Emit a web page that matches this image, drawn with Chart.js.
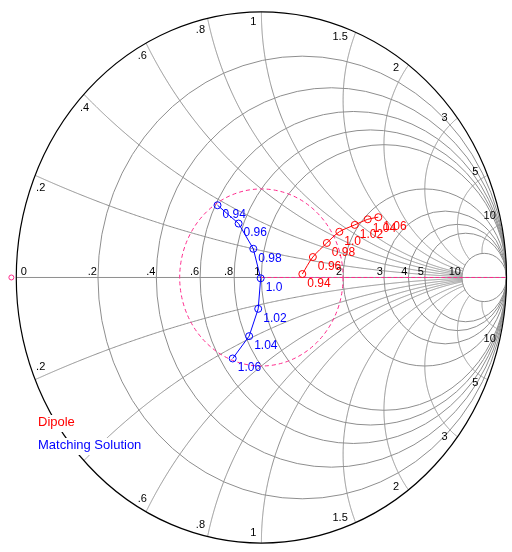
<!DOCTYPE html>
<html><head><meta charset="utf-8">
<script src="https://cdn.jsdelivr.net/npm/chart.js@4/dist/chart.umd.min.js"></script>
<style>html,body{margin:0;padding:0;background:#fff;overflow:hidden}#wrap{position:relative;width:512px;height:552px}</style>
</head><body><div id="wrap"><canvas id="c" width="512" height="552"></canvas></div>
<script>
// ---- data (reflection coefficient) ----
const freqLabels = ['0.94','0.96','0.98','1.0','1.02','1.04','1.06'];
const dipoleRe = [0.167, 0.210, 0.267, 0.318, 0.381, 0.434, 0.477];
const dipoleIm = [0.013, 0.077, 0.130, 0.172, 0.198, 0.219, 0.227];
const matchRe = [-0.179, -0.093, -0.033, -0.003, -0.013, -0.050, -0.117];
const matchIm = [0.272, 0.203, 0.108, -0.003, -0.118, -0.221, -0.305];
const sourceRe = [-1.02];
const sourceIm = [0];
const seriesNames = ['Dipole', 'Matching Solution'];
// ---- grid definition ----
const resistanceCircles = [0.2, 0.4, 0.6, 0.8, 1, 2, 3, 4, 5, 10];
const resistanceTickValues = [0, 0.2, 0.4, 0.6, 0.8, 1, 2, 3, 4, 5, 10];
const resistanceTickLabels = ['0', '.2', '.4', '.6', '.8', '1', '2', '3', '4', '5', '10'];
const reactanceArcs = [0.2, 0.4, 0.6, 0.8, 1, 1.5, 2, 3, 5, 10];
const reactanceTickLabels = ['.2', '.4', '.6', '.8', '1', '1.5', '2', '3', '5', '10'];
const maxResistance = 10;
const vswrGamma = 1 / 3;

// ---- styles ----
const RED = '#ff0000', BLUE = '#0000ff', PINK = '#ff2a8c', GRID = '#8e8e8e';
const FONT = '"Liberation Sans", Arial, sans-serif';

function gammaOf(r, x) {
  const d = (r + 1) * (r + 1) + x * x;
  return [(r * r - 1 + x * x) / d, 2 * x / d];
}

const smithGrid = {
  id: 'smithGrid',
  beforeDatasetsDraw(chart) {
    const ctx = chart.ctx, xs = chart.scales.x, ys = chart.scales.y;
    const P = (u, v) => [xs.getPixelForValue(u), ys.getPixelForValue(v)];
    const sx = xs.getPixelForValue(1) - xs.getPixelForValue(0);
    const sy = ys.getPixelForValue(0) - ys.getPixelForValue(1);
    ctx.save();
    ctx.strokeStyle = GRID; ctx.lineWidth = 1;
    // resistance circles
    resistanceCircles.forEach(r => {
      const [cx, cy] = P(r / (1 + r), 0);
      const rad = 1 / (1 + r);
      ctx.beginPath(); ctx.ellipse(cx, cy, rad * sx, rad * sy, 0, 0, Math.PI * 2); ctx.stroke();
    });
    // reactance arcs (clipped at r = maxResistance)
    reactanceArcs.forEach(x => {
      [1, -1].forEach(s => {
        ctx.beginPath();
        const N = 600;
        for (let i = 0; i <= N; i++) {
          const r = maxResistance * Math.pow(i / N, 3);
          const g = gammaOf(r, s * x);
          const [px, py] = P(g[0], g[1]);
          if (i === 0) ctx.moveTo(px, py); else ctx.lineTo(px, py);
        }
        ctx.stroke();
      });
    });
    // horizontal axis
    let [ax0, ay] = P(-1, 0); let [ax1] = P(1, 0);
    ctx.beginPath(); ctx.moveTo(ax0, ay); ctx.lineTo(ax1, ay); ctx.stroke();
    // outer circle
    const [ox, oy] = P(0, 0);
    ctx.strokeStyle = '#000'; ctx.lineWidth = 1.2;
    ctx.beginPath(); ctx.ellipse(ox, oy, sx, sy, 0, 0, Math.PI * 2); ctx.stroke();
    // VSWR circle and dashed real axis
    ctx.strokeStyle = PINK; ctx.lineWidth = 1; ctx.setLineDash([4, 3]);
    ctx.beginPath(); ctx.ellipse(ox, oy, vswrGamma * sx, vswrGamma * sy, 0, 0, Math.PI * 2); ctx.stroke();
    ctx.setLineDash([4, 2]);
    ctx.beginPath(); ctx.moveTo(ox, ay); ctx.lineTo(ax1, ay); ctx.stroke();
    ctx.setLineDash([]);
    // resistance labels along the axis
    ctx.fillStyle = '#000'; ctx.font = '11px ' + FONT; ctx.textBaseline = 'alphabetic';
    resistanceTickValues.forEach((r, i) => {
      const [px] = P((r - 1) / (r + 1), 0);
      if (r === 0) { ctx.textAlign = 'left'; ctx.fillText(resistanceTickLabels[i], px + 4.5, ay - 2.5); }
      else { ctx.textAlign = 'right'; ctx.fillText(resistanceTickLabels[i], px - 1, ay - 2.5); }
    });
    // reactance labels near the rim
    ctx.textAlign = 'center'; ctx.textBaseline = 'middle';
    reactanceArcs.forEach((x, i) => {
      [1, -1].forEach(s => {
        const g = gammaOf(0, s * x);
        const [ex, ey] = P(g[0], g[1]);
        const c = g[0], sn = g[1];
        const label = reactanceTickLabels[i];
        const hw = ctx.measureText(label).width / 2;
        const nx = -c, ny = sn;
        const tx = -s * sn, ty = -s * c;
        const sh = hw + 5;
        ctx.fillText(label, ex + 10 * nx + sh * tx, ey + 10 * ny + sh * ty);
      });
    });
    ctx.restore();
  },
  afterDatasetsDraw(chart) {
    const ctx = chart.ctx;
    ctx.save();
    ctx.font = '12px ' + FONT; ctx.textAlign = 'left'; ctx.textBaseline = 'middle';
    [0, 1].forEach(di => {
      const meta = chart.getDatasetMeta(di);
      ctx.fillStyle = di === 0 ? RED : BLUE;
      meta.data.forEach((pt, i) => {
        ctx.fillText(freqLabels[i], pt.x + 5, pt.y + 9.5);
      });
    });
    // legend
    ctx.font = '13px ' + FONT; ctx.textBaseline = 'top';
    const legendX = 38, legendY = [416, 439];
    seriesNames.forEach((name, i) => {
      const w = ctx.measureText(name).width;
      ctx.fillStyle = '#fff'; ctx.fillRect(legendX - 1, legendY[i] - 1, w + 2, 17);
      ctx.fillStyle = i === 0 ? RED : BLUE;
      ctx.fillText(name, legendX, legendY[i]);
    });
    ctx.restore();
  }
};

const pts = (re, im) => re.map((u, i) => ({ x: u, y: im[i] }));

new Chart(document.getElementById('c'), {
  type: 'scatter',
  data: {
    datasets: [
      { label: seriesNames[0], data: pts(dipoleRe, dipoleIm), showLine: true, borderColor: RED, borderWidth: 1,
        pointRadius: 3.5, pointBorderWidth: 1, pointBorderColor: RED, pointBackgroundColor: 'rgba(0,0,0,0)', tension: 0.3, clip: false },
      { label: seriesNames[1], data: pts(matchRe, matchIm), showLine: true, borderColor: BLUE, borderWidth: 1,
        pointRadius: 3.5, pointBorderWidth: 1, pointBorderColor: BLUE, pointBackgroundColor: 'rgba(0,0,0,0)', tension: 0, clip: false },
      { label: 'source', data: pts(sourceRe, sourceIm), showLine: false,
        pointRadius: 2.5, pointBorderWidth: 1, pointBorderColor: PINK, pointBackgroundColor: 'rgba(0,0,0,0)', clip: false }
    ]
  },
  options: {
    responsive: false, animation: false, devicePixelRatio: 1,
    layout: { padding: 0 },
    scales: {
      x: { type: 'linear', min: -1.046, max: 1.002, display: false },
      y: { type: 'linear', min: -1.0148, max: 1.0259, display: false }
    },
    plugins: { legend: { display: false }, tooltip: { enabled: false } }
  },
  plugins: [smithGrid]
});
</script>
</body></html>
